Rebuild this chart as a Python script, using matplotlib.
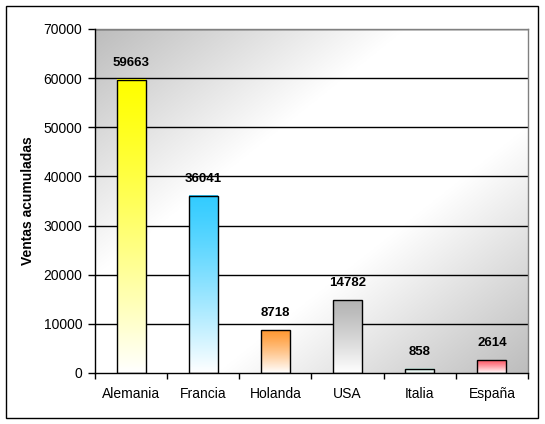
"""
Ventas acumuladas por pais - bar chart with gradient fills
"""

import numpy as np
import matplotlib
matplotlib.use('Agg')
import matplotlib.pyplot as plt
from matplotlib.colors import to_rgb
from matplotlib.patches import Rectangle

# Data
paises = ['Alemania', 'Francia', 'Holanda', 'USA', 'Italia', 'España']
ventas = [59663, 36041, 8718, 14782, 858, 2614]
colores_top = ['#ffff00', '#33ccff', '#ff9933', '#b4b4b4', '#c4e6dc', '#ff5a68']
y_ticks = [0, 10000, 20000, 30000, 40000, 50000, 60000, 70000]

plt.rcParams['font.family'] = ['Liberation Sans', 'DejaVu Sans']

W, H = 545, 424
fig = plt.figure(figsize=(W / 100, H / 100), dpi=100)
fig.patch.set_facecolor('white')

# plot area in pixels: x 95..528, y 29..373
ax = fig.add_axes([95 / W, 1 - 373 / H, (528 - 95) / W, (373 - 29) / H])

n = len(paises)

# background: diagonal gradient gray (top-left) -> white -> gray (bottom-right)
u = np.linspace(0, 1, 300)
v = np.linspace(0, 1, 300)
U, V = np.meshgrid(u, v)          # V = 0 at top row
s = (U + V) / 2
t = 1 - np.abs(2 * s - 1)
t = np.clip(t * 1.4, 0, 1)
gray = 0.74
bg = gray + (1 - gray) * t
bg_rgb = np.dstack([bg, bg, bg])
ax.imshow(bg_rgb, extent=(-0.5, n - 0.5, 0, 70000), origin='upper',
          aspect='auto', zorder=0, interpolation='bilinear')

# gridlines
for yt in y_ticks[1:]:
    ax.axhline(yt, color='black', lw=1, zorder=1)

# bars with vertical gradient (colour at top, white at bottom)
bw = 0.4
for i, (val, col) in enumerate(zip(ventas, colores_top)):
    c = np.array(to_rgb(col))
    g = np.linspace(0, 1, 200)[:, None] ** 1.2
    img = c[None, :] * (1 - g) + np.ones(3)[None, :] * g
    img = img[:, None, :]
    ax.imshow(img, extent=(i - bw / 2, i + bw / 2, 0, val), origin='upper',
              aspect='auto', zorder=2, interpolation='bilinear')
    ax.add_patch(Rectangle((i - bw / 2, 0), bw, val, fill=False,
                           edgecolor='black', lw=1, zorder=3))
    ax.annotate(str(val), (i, val), xytext=(0, 8), textcoords='offset points',
                ha='center', va='bottom', fontsize=9.5, fontweight='bold')

ax.set_xlim(-0.5, n - 0.5)
ax.set_ylim(0, 70000)

# axes and ticks
ax.set_xticks(range(n))
ax.set_xticklabels(paises, fontsize=10)
ax.set_xticks(np.arange(-0.5, n, 1), minor=True)
ax.tick_params(axis='x', which='major', length=0, pad=10)
ax.tick_params(axis='x', which='minor', length=4, width=1, direction='out')
ax.set_yticks(y_ticks)
ax.set_yticklabels([str(y) for y in y_ticks], fontsize=10)
ax.tick_params(axis='y', length=5, width=1, direction='out', pad=4)

for side in ['left', 'bottom']:
    ax.spines[side].set_color('black')
    ax.spines[side].set_linewidth(1)
    ax.spines[side].set_zorder(4)
for side in ['top', 'right']:
    ax.spines[side].set_color('#808080')
    ax.spines[side].set_linewidth(1)

ax.set_ylabel('Ventas acumuladas', fontsize=10, fontweight='bold', labelpad=6)

# outer chart border
fig.add_artist(Rectangle((6 / W, 1 - 418 / H), (538 - 6) / W, (418 - 6) / H,
                         transform=fig.transFigure, fill=False,
                         edgecolor='black', lw=1))

plt.savefig('out.png', dpi=100)
